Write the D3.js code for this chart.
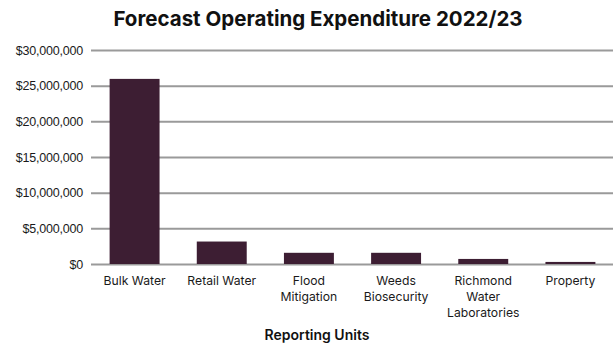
<!DOCTYPE html>
<html>
<head>
<meta charset="utf-8">
<script src="https://cdn.jsdelivr.net/npm/d3@7"></script>
<style>
  body { margin: 0; background: #fff; }
  svg { display: block; font-family: Inter, "Liberation Sans", sans-serif; }
</style>
</head>
<body>
<svg width="613" height="344"></svg>
<script>
const title = "Forecast Operating Expenditure 2022/23";
const x_label = "Reporting Units";

const categories = ["Bulk Water", "Retail Water", "Flood Mitigation", "Weeds Biosecurity", "Richmond Water Laboratories", "Property"];
const label_lines = [["Bulk Water"], ["Retail Water"], ["Flood", "Mitigation"], ["Weeds", "Biosecurity"], ["Richmond", "Water", "Laboratories"], ["Property"]];
const expenditure = [25950000, 3150000, 1570000, 1570000, 710000, 290000];
const y_ticks = [0, 5000000, 10000000, 15000000, 20000000, 25000000, 30000000];

const margin = { left: 91, right: -1, top: 50, bottom: 80 },
  width = 613,
  height = 344;

const svg = d3.select("svg").attr("viewBox", [0, 0, width, height]);

const x_scale = d3.scaleBand()
  .domain(categories)
  .range([margin.left, width - margin.right])
  .paddingInner(0.427)
  .paddingOuter(0.2135);

const y_scale = d3.scaleLinear()
  .domain([0, 30000000])
  .range([height - margin.bottom, margin.top]);

// gridlines + tick labels
const y_axis = d3.axisLeft(y_scale)
  .tickValues(y_ticks)
  .tickSize(-(width - margin.left))
  .tickPadding(8)
  .tickFormat(d => "$" + d3.format(",")(d));

const gy = svg.append("g")
  .attr("transform", `translate(${margin.left},0)`)
  .call(y_axis);
gy.select(".domain").remove();
gy.selectAll(".tick line").attr("stroke", "#9a9a9a").attr("stroke-width", 2);
gy.selectAll(".tick text")
  .attr("x", -8)
  .style("font-size", "12.5px")
  .style("letter-spacing", "-0.2px")
  .attr("fill", "#1a1a1a");

svg.append("g")
  .selectAll("rect")
  .data(expenditure)
  .join("rect")
  .attr("x", (d, i) => x_scale(categories[i]))
  .attr("y", d => y_scale(d))
  .attr("width", x_scale.bandwidth())
  .attr("height", d => y_scale(0) - y_scale(d))
  .attr("fill", "#3d1e33");

// category labels
const labels = svg.append("g")
  .selectAll("text")
  .data(categories)
  .join("text")
  .attr("text-anchor", "middle")
  .attr("fill", "#1a1a1a")
  .style("font-size", "12.2px")
  .attr("transform", d => `translate(${x_scale(d) + x_scale.bandwidth() / 2},${y_scale(0) + 21})`);

labels.selectAll("tspan")
  .data((d, i) => label_lines[i])
  .join("tspan")
  .attr("x", 0)
  .attr("y", (d, i) => i * 16)
  .text(d => d);

svg.append("text")
  .attr("x", 318)
  .attr("y", 26)
  .attr("text-anchor", "middle")
  .style("font-size", "20.5px")
  .style("font-weight", "700")
  .attr("fill", "#111")
  .text(title);

svg.append("text")
  .attr("x", 317)
  .attr("y", 340)
  .attr("text-anchor", "middle")
  .style("font-size", "14px")
  .style("font-weight", "600")
  .attr("fill", "#111")
  .text(x_label);
</script>
</body>
</html>
